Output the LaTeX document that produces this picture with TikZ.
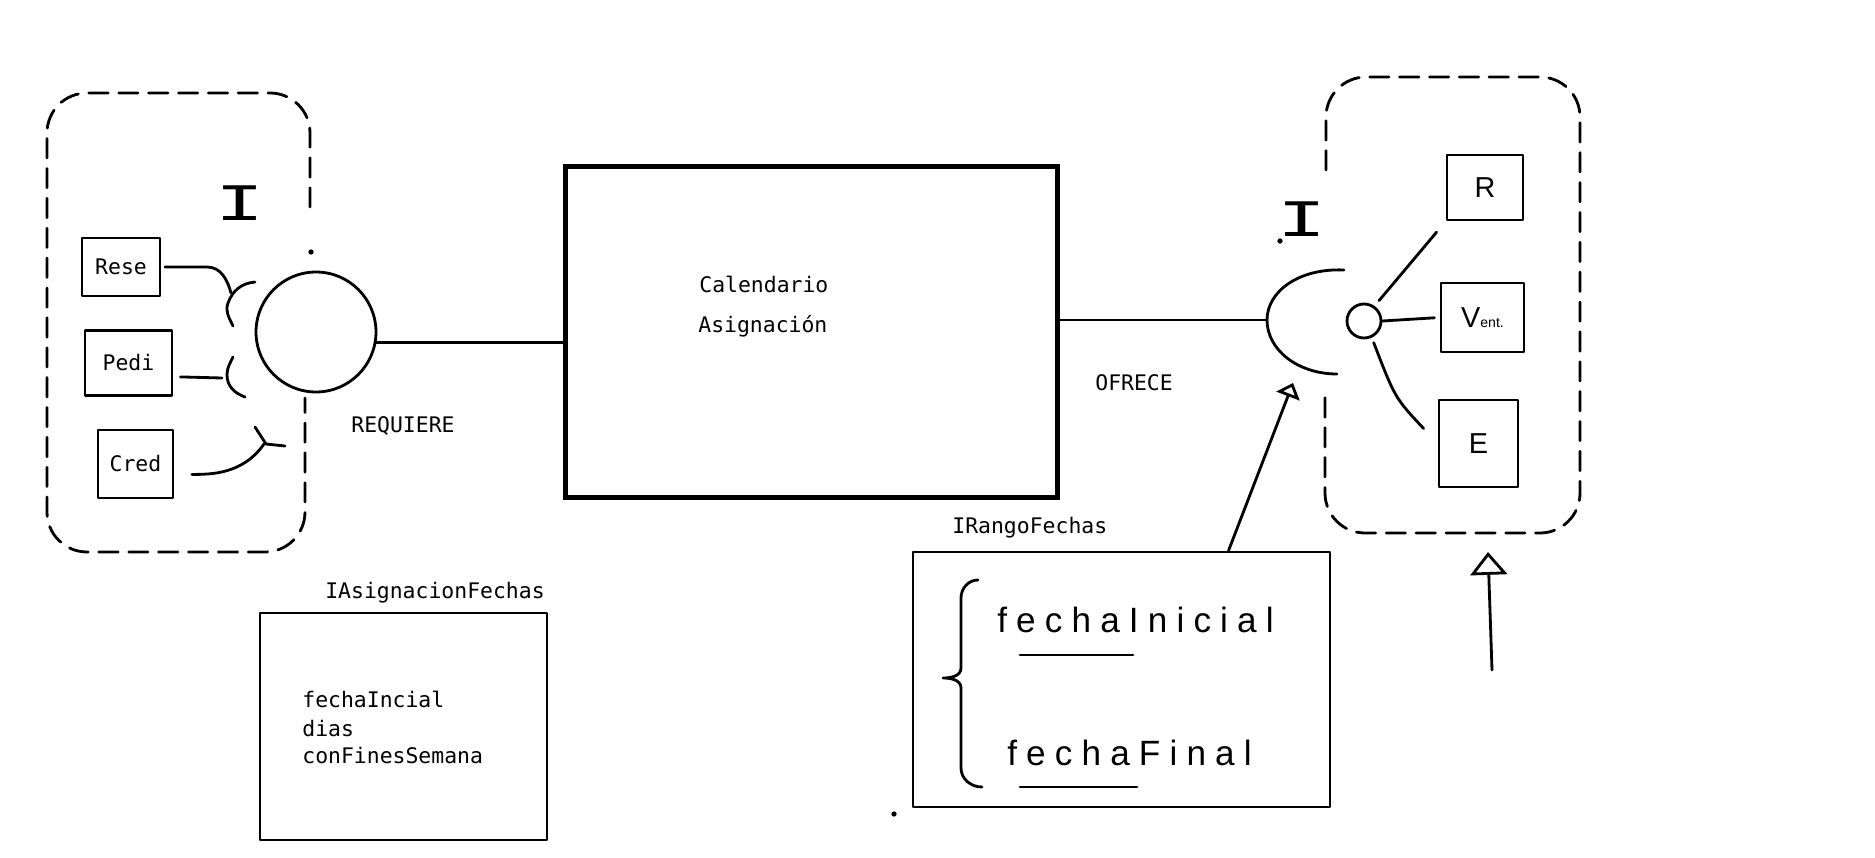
\documentclass[tikz,border=0pt]{standalone}
\usepackage{fontspec}
\setmainfont{Liberation Sans}
\newfontfamily\monof{DejaVu Sans Mono}
\newfontfamily\ibeam{Liberation Mono}
\newfontfamily\handsp[LetterSpace=26]{Liberation Sans}
\usetikzlibrary{arrows.meta,calc}
\tikzset{
  pen/.style={line width=1.6pt, line cap=round, line join=round},
  dashbox/.style={pen, dash pattern=on 11pt off 6pt, rounded corners=0.8cm},
  mono/.style={font=\monof\fontsize{12.2pt}{14pt}\selectfont, inner sep=0pt},
  hand/.style={font=\fontsize{16.4pt}{20pt}\selectfont, inner sep=0pt},
  handtext/.style={font=\handsp\fontsize{20pt}{24pt}\selectfont, inner sep=0pt},
  ibeamtext/.style={font=\ibeam\fontsize{30pt}{30pt}\selectfont, inner sep=0pt},
  comp/.style={draw, pen, rectangle, inner sep=0pt},
  dot/.style={circle, fill, inner sep=0pt, minimum size=3pt}
}
\begin{document}
\begin{tikzpicture}[x=0.02cm,y=-0.02cm]
\useasboundingbox (0,0) rectangle (1875,858);

% ---------- left component (required) ----------
\draw[dashbox] (310,207) -- (310,93) -- (47,93) -- (47,552) -- (305,552) -- (305,398);
\node[dot] (dotL) at (311,252) {};
\node[ibeamtext] (Ileft) at (240,203) {\scalebox{1.55}[1]{I}};

\node[comp, mono, minimum width=1.56cm, minimum height=1.16cm] (Rese) at (121,267) {Rese};
\node[comp, mono, minimum width=1.74cm, minimum height=1.30cm] (Pedi) at (128.5,363) {Pedi};
\node[comp, mono, minimum width=1.50cm, minimum height=1.36cm] (Cred) at (135.5,464) {Cred};

\node[draw, pen, circle, minimum size=2.4cm, inner sep=0pt] (req) at (316,332) {};

% sockets
\coordinate (sockRese) at (231,293);
\coordinate (sockPedi) at (222,378);
\coordinate (sockCred) at (264,444);
\draw[pen] (255,282) to[out=185,in=70] (228,303) to[out=-110,in=115] (233,326);
\draw[pen] (233,357) to[out=-115,in=90] (227,375) to[out=-90,in=160] (245,397);
\draw[pen] (255,427) -- (266,444) -- (285,446);

\draw[pen, shorten <=2pt] (Rese.east) -- (207,267) to[out=0,in=105] (sockRese);
\draw[pen, shorten <=4pt] (Pedi.-17) -- (sockPedi);
\draw[pen, shorten <=10pt] (Cred.-15) to[out=0,in=-125] (sockCred);

\node[mono, anchor=base west] (requiere) at (351,432) {REQUIERE};

% ---------- central component ----------
\node[draw, line width=2.8pt, rectangle, inner sep=0pt, minimum width=9.84cm, minimum height=6.62cm] (cal) at (811.5,332) {};
\node[mono, anchor=base west] (calA) at (699,292) {Calendario};
\node[mono, anchor=base west] (calB) at (698,332) {Asignación};

\draw[pen] (req.-10) -- (req.-10 -| cal.west);

% ---------- right component (provided) ----------
\draw[dashbox] (1326,170) -- (1326,77) -- (1580,77) -- (1580,533) -- (1325,533) -- (1325,393);
\node[ibeamtext] (Iright) at (1302,219) {\scalebox{1.55}[1]{I}};
\node[dot] (dotR) at (1280,241) {};

\coordinate (sockL) at (1267,320);
\draw[pen] (1344,270) .. controls (1298,268) and (1267,292) .. (1267,320) .. controls (1267,350) and (1298,374) .. (1337,374);
\draw[pen] (cal.east |- sockL) -- (sockL);
\node[mono, anchor=base west] (ofrece) at (1095,390) {OFRECE};

\node[draw, pen, circle, minimum size=0.68cm, inner sep=0pt] (ball) at (1364,321) {};

\node[comp, hand, minimum width=1.52cm, minimum height=1.30cm] (R) at (1485,187.5) {R};
\node[comp, hand, minimum width=1.66cm, minimum height=1.38cm] (Vent) at (1482.5,317.5) {V\fontsize{8pt}{8pt}\selectfont ent.};
\node[comp, hand, minimum width=1.58cm, minimum height=1.74cm] (E) at (1478.5,443.5) {E};

\draw[pen, shorten <=4pt, shorten >=8pt] (ball.55) -- (R.south west);
\draw[pen, shorten >=3pt] (ball.east) -- (Vent.west);
\draw[pen, shorten <=3pt] (ball.-65) .. controls (1395,398) .. ($(E.west)+(-14,-15)$);

% ---------- IRangoFechas ----------
\node[comp, minimum width=8.34cm, minimum height=5.10cm] (rango) at (1121.5,679.5) {};
\node[mono, anchor=base west] (rangoL) at (952,533) {IRangoFechas};
\draw[pen] (978,580) to[out=180,in=90] (961,598) -- (961,668) to[out=-90,in=0] (943,678)
           to[out=0,in=90] (961,688) -- (961,768) to[out=-90,in=180] (982,787);
\node[handtext, anchor=base west] (fIni) at (997,632) {fechaInicial};
\node[handtext, anchor=base west] (fFin) at (1007,765) {fechaFinal};
\draw[pen] (1020,655) -- (1133,655);
\draw[pen] (1020,787) -- (1137,787);
\node[dot] (dotB) at (894,814) {};

\coordinate (tipA) at (1293,383);
\draw[pen, -{Triangle[open,length=8pt,width=14pt]}] ($(rango.north east)!0.245!(rango.north west)$) -- (tipA);

\coordinate (bArrowS) at (1492,670);
\coordinate (bArrowT) at (1488,552);
\draw[pen, -{Triangle[open,length=13pt,width=21pt]}] (bArrowS) -- (bArrowT);

% ---------- IAsignacionFechas ----------
\node[comp, minimum width=5.74cm, minimum height=4.54cm] (asig) at (403.5,726.5) {};
\node[mono, anchor=base] (asigL) at (435,598) {IAsignacionFechas};
\node[mono, anchor=base west] (a1) at (302,707) {fechaIncial};
\node[mono, anchor=base west] (a2) at (302,736) {dias};
\node[mono, anchor=base west] (a3) at (302,763) {conFinesSemana};

\end{tikzpicture}
\end{document}
